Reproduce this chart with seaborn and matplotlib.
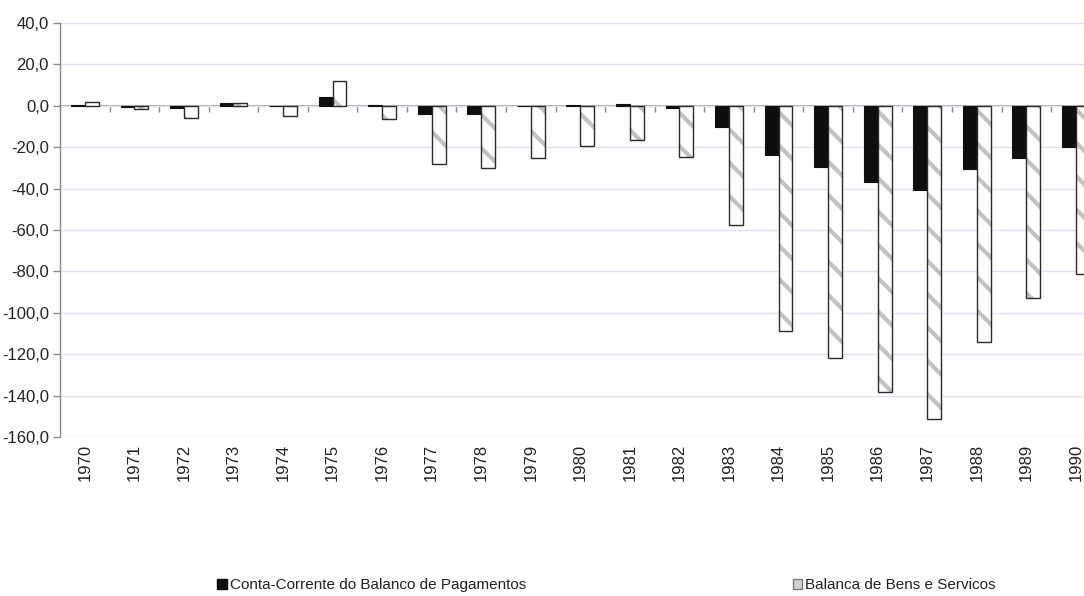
import matplotlib
matplotlib.use("Agg")
import matplotlib.pyplot as plt
from matplotlib.colors import to_rgba
from matplotlib.patches import Patch
import numpy as np
import pandas as pd
import seaborn as sns

# Saldos anuais (mil milhões), 1970-1990
anos = [str(a) for a in range(1970, 1991)]
conta_corrente = [0.4, -0.5, -1.3, 1.4, -0.2, 4.2, 0.5, -3.9, -3.9, -0.3, 0.4,
                  1.0, -0.9, -10.0, -23.7, -29.6, -36.9, -40.6, -30.6, -25.3, -19.8]
bens_servicos = [2.0, -1.5, -5.9, 1.5, -4.8, 12.2, -6.4, -27.9, -30.1, -25.1, -19.6,
                 -16.3, -24.5, -57.5, -108.7, -121.7, -138.2, -151.4, -114.3, -92.8, -81.2]
series = ["Conta-Corrente do Balanco de Pagamentos", "Balanca de Bens e Servicos"]
yticks = list(range(-160, 41, 20))

sns.set_theme(style="white")
plt.rcParams["font.family"] = ["Liberation Sans", "DejaVu Sans"]
plt.rcParams["hatch.linewidth"] = 3.0

df = pd.DataFrame({
    "ano": anos * 2,
    "valor": conta_corrente + bens_servicos,
    "serie": [series[0]] * len(anos) + [series[1]] * len(anos),
})

fig = plt.figure(figsize=(10.84, 5.96), dpi=100)
ax = fig.add_axes([0.0554, 0.2668, 0.96, 0.6946])

sns.barplot(data=df, x="ano", y="valor", hue="serie", hue_order=series,
            palette=["#0e0e0e", "#ffffff"], width=0.56, gap=0, dodge=True,
            legend=False, ax=ax, errorbar=None)

for bar in ax.containers[0]:
    bar.set_edgecolor("#111111")
    bar.set_linewidth(0.8)
for bar in ax.containers[1]:
    bar.set_facecolor("#ffffff")
    bar.set_edgecolor("#2a2a2a")
    bar.set_linewidth(1.0)
    bar.set_hatch("\\")
    bar._hatch_color = to_rgba("#c2c2c2")

ax.set_ylim(-160, 40)
ax.set_yticks(yticks)
ax.set_yticklabels([f"{v:.1f}".replace(".", ",") for v in yticks])
ax.set_xlabel("")
ax.set_ylabel("")

ax.grid(axis="y", color="#dde4ef", linewidth=1.0)
ax.set_axisbelow(True)
for s in ["top", "right", "bottom"]:
    ax.spines[s].set_visible(False)
ax.spines["left"].set_color("#8a8a8a")
ax.spines["left"].set_linewidth(1.0)

ax.tick_params(axis="y", left=True, length=5, color="#8a8a8a", width=1,
               labelsize=12, labelcolor="#222222", pad=3)
ax.tick_params(axis="x", bottom=False, length=0, labelsize=12,
               labelcolor="#222222", rotation=90, pad=5)

# linha do zero com marcas entre categorias
sec = ax.secondary_xaxis(0.8)
sec.set_xticks(np.arange(-0.5, len(anos), 1.0))
sec.set_xticklabels([])
sec.tick_params(axis="x", direction="in", length=4, color="#8a8a8a", width=1)
for s in sec.spines.values():
    s.set_color("#9a9a9a")
    s.set_linewidth(1.2)

handles = [Patch(facecolor="#0e0e0e", edgecolor="#0e0e0e"),
           Patch(facecolor="#d4d4d4", edgecolor="#7a7a7a")]
for h, label, x0 in zip(handles, series, [0.2005, 0.7315]):
    fig.legend([h], [label], loc="center left", bbox_to_anchor=(x0, 0.018),
               frameon=False, fontsize=11, handlelength=0.6,
               handleheight=0.6, handletextpad=0.2,
               borderpad=0, borderaxespad=0, labelcolor="#222222")

fig.savefig("out.png", dpi=100)
